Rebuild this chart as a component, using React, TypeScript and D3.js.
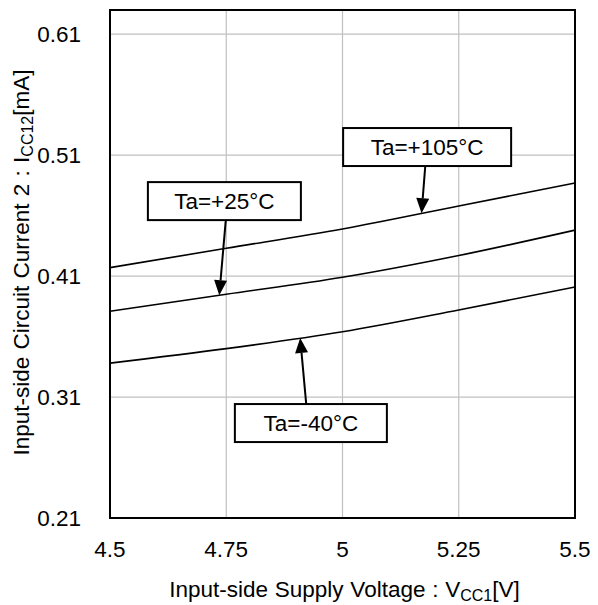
import React from "react";
import * as d3 from "d3";

const voltages = [4.5, 4.75, 5.0, 5.25, 5.5];
const ta105 = [0.417, 0.433, 0.449, 0.468, 0.487];
const ta25 = [0.381, 0.395, 0.409, 0.427, 0.448];
const taM40 = [0.338, 0.350, 0.364, 0.382, 0.401];

const xTicks = [4.5, 4.75, 5, 5.25, 5.5];
const xTickLabels = ["4.5", "4.75", "5", "5.25", "5.5"];
const yTicks = [0.21, 0.31, 0.41, 0.51, 0.61];
const yTickLabels = ["0.21", "0.31", "0.41", "0.51", "0.61"];

const labels = ["Ta=+105°C", "Ta=+25°C", "Ta=-40°C"];
const labelBoxX = [5.182, 4.746, 4.932];
const labelBoxY = [0.5167, 0.472, 0.2885];
const arrowStartX = [5.178, 4.749, 4.922];
const arrowTipX = [5.17, 4.735, 4.909];
const seriesList = [ta105, ta25, taM40];

const W = 598;
const H = 605;
const M = { left: 110, right: 23, top: 10, bottom: 87 };
const FONT = "Arial, 'Liberation Sans', sans-serif";

export default function App() {
  const x = d3.scaleLinear().domain([4.5, 5.5]).range([M.left, W - M.right]);
  const y = d3.scaleLinear().domain([0.21, 0.63]).range([H - M.bottom, M.top]);

  const line = d3
    .line<number>()
    .x((_, i) => x(voltages[i]))
    .y((d) => y(d))
    .curve(d3.curveMonotoneX);

  const interp = (s: number[], v: number) => {
    const f = d3.scaleLinear().domain(voltages).range(s);
    return f(v);
  };

  const boxW = [168, 153, 152];
  const boxH = 38;

  return (
    <svg width={W} height={H} style={{ position: "absolute", left: 0, top: 0, background: "#fff" }} fontFamily={FONT}>
      <rect width={W} height={H} fill="#fff" />
      {xTicks.slice(1, -1).map((t) => (
        <line key={"gx" + t} x1={x(t)} x2={x(t)} y1={y(0.63)} y2={y(0.21)} stroke="#c0c0c0" strokeWidth={1.2} />
      ))}
      {yTicks.slice(1).map((t) => (
        <line key={"gy" + t} x1={x(4.5)} x2={x(5.5)} y1={y(t)} y2={y(t)} stroke="#c0c0c0" strokeWidth={1.2} />
      ))}
      {seriesList.map((s, i) => (
        <path key={"s" + i} d={line(s) || ""} fill="none" stroke="#000" strokeWidth={1.6} />
      ))}
      <rect x={x(4.5)} y={y(0.63)} width={x(5.5) - x(4.5)} height={y(0.21) - y(0.63)} fill="none" stroke="#000" strokeWidth={2} />
      {yTicks.map((t, i) => (
        <text key={"yl" + t} x={81} y={y(t)} dy="0.36em" textAnchor="end" fontSize={22.5} fill="#000">
          {yTickLabels[i]}
        </text>
      ))}
      {xTicks.map((t, i) => (
        <text key={"xl" + t} x={x(t)} y={557} textAnchor="middle" fontSize={22.5} fill="#000">
          {xTickLabels[i]}
        </text>
      ))}
      <text x={344.5} y={596.5} textAnchor="middle" fontSize={22.5} fill="#000" wordSpacing={0.5}>
        Input-side Supply Voltage : V
        <tspan fontSize={16} dy={4}>CC1</tspan>
        <tspan dy={-4}>[V]</tspan>
      </text>
      <text transform={`translate(28.5,262.5) rotate(-90)`} textAnchor="middle" fontSize={22.5} fill="#000" wordSpacing={1}>
        Input-side Circuit Current 2 : I
        <tspan fontSize={16} dy={4}>CC12</tspan>
        <tspan dy={-4}>[mA]</tspan>
      </text>
      {labels.map((lab, i) => {
        const cx = x(labelBoxX[i]);
        const cy = y(labelBoxY[i]);
        const tx = x(arrowTipX[i]);
        const ty = y(interp(seriesList[i], arrowTipX[i]));
        const below = ty > cy;
        const sx = x(arrowStartX[i]);
        const sy = below ? cy + boxH / 2 : cy - boxH / 2;
        const ang = Math.atan2(ty - sy, tx - sx);
        const hl = 15;
        const hw = 6.5;
        const bx = tx - hl * Math.cos(ang);
        const by = ty - hl * Math.sin(ang);
        const px = -Math.sin(ang);
        const py = Math.cos(ang);
        return (
          <g key={"lab" + i}>
            <rect x={cx - boxW[i] / 2} y={cy - boxH / 2} width={boxW[i]} height={boxH} fill="#fff" stroke="#000" strokeWidth={2} />
            <text x={cx} y={cy} dy="0.36em" textAnchor="middle" fontSize={22.5} fill="#000">
              {lab}
            </text>
            <line x1={sx} y1={sy} x2={bx} y2={by} stroke="#000" strokeWidth={2} />
            <polygon points={`${tx},${ty} ${bx + px * hw},${by + py * hw} ${bx - px * hw},${by - py * hw}`} fill="#000" />
          </g>
        );
      })}
    </svg>
  );
}
